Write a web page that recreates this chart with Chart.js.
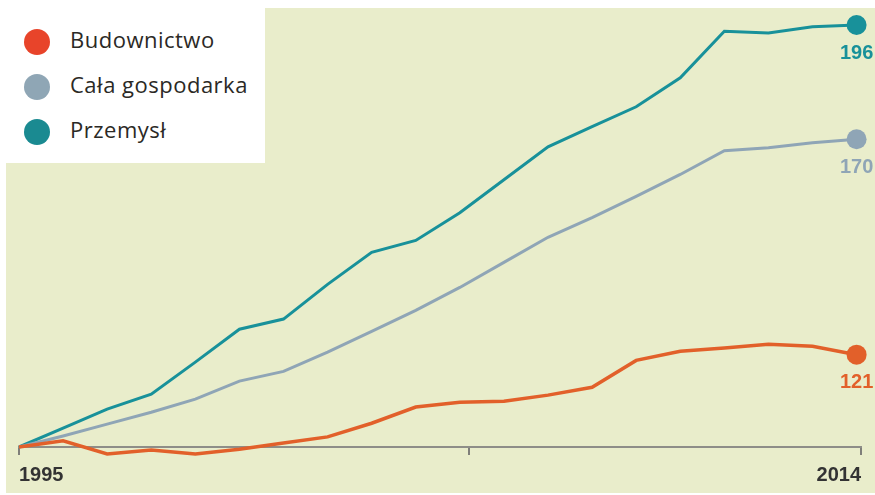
<!DOCTYPE html>
<html>
<head>
<meta charset="utf-8">
<script src="https://cdn.jsdelivr.net/npm/chart.js@4.4.1/dist/chart.umd.min.js"></script>
<style>
  body { margin: 0; background: #fff; }
  #wrap { position: relative; width: 875px; height: 495px; overflow: hidden; }
  #bg { position: absolute; left: 6px; top: 8px; right: 0; bottom: 2px; background: #e9edcb; }
  #c { position: absolute; left: 0; top: 0; }
  #legend { position: absolute; left: 0; top: 0; width: 265px; height: 163px; background: #fff;
            font-family: "Open Sans", sans-serif; font-size: 22px; letter-spacing: 0.5px; color: #2b2925; }
  .item { position: absolute; left: 24px; height: 26px; line-height: 26px; white-space: nowrap; }
  .dot { display: inline-block; width: 26px; height: 26px; border-radius: 50%; vertical-align: middle; margin-right: 20px; }
</style>
</head>
<body>
<div id="wrap">
  <div id="bg"></div>
  <canvas id="c" width="875" height="495"></canvas>
  <div id="legend"></div>
</div>
<script>
// ---- dane (indeks, 1995 = 100) ----
const lata = [1995, 1996, 1997, 1998, 1999, 2000, 2001, 2002, 2003, 2004,
              2005, 2006, 2007, 2008, 2009, 2010, 2011, 2012, 2013, 2014];
const budownictwo = [100, 101.4, 98.4, 99.3, 98.4, 99.5, 100.9, 102.3, 105.4, 109.1,
                     110.2, 110.4, 111.8, 113.6, 119.7, 121.8, 122.5, 123.4, 122.9, 121];
const calaGospodarka = [100, 102.5, 105.2, 107.9, 110.9, 115.0, 117.2, 121.6, 126.3, 131.1,
                        136.3, 142.0, 147.7, 152.2, 157.0, 162.0, 167.4, 168.1, 169.2, 170];
const przemysl = [100, 104.3, 108.6, 112.0, 119.3, 126.8, 129.1, 137.0, 144.3, 147.0,
                  153.3, 160.8, 168.3, 172.9, 177.4, 184.0, 194.6, 194.2, 195.6, 196];
const serie = ["Budownictwo", "Cała gospodarka", "Przemysł"];
const tickiX = [1995, 2005.2, 2014.1];
const etykietyX = ["1995", "", "2014"];

const kolory = ["#e2602a", "#8fa5b6", "#18919a"];
const koloryLegendy = ["#e8442a", "#8fa6b5", "#1a8a91"];

// legenda (HTML)
const legend = document.getElementById("legend");
serie.forEach((s, i) => {
    const d = document.createElement("div");
    d.className = "item";
    d.style.top = (26 + i * 45) + "px";
    d.innerHTML = `<span class="dot" style="background:${koloryLegendy[i]}"></span>${s}`;
    legend.appendChild(d);
});

const toPts = arr => arr.map((v, i) => ({ x: lata[i], y: v }));
const ostatni = arr => arr.map((v, i) => i === arr.length - 1 ? 10 : 0);

// etykiety na koncu linii
const endLabels = {
    id: "endLabels",
    afterDatasetsDraw(chart) {
        const ctx = chart.ctx;
        ctx.save();
        ctx.font = "bold 20px 'Liberation Sans', Arial, sans-serif";
        ctx.textAlign = "center";
        ctx.textBaseline = "middle";
        chart.data.datasets.forEach((ds, i) => {
            const meta = chart.getDatasetMeta(i);
            const p = meta.data[meta.data.length - 1];
            ctx.fillStyle = ds.borderColor;
            ctx.fillText(Math.round(ds.data[ds.data.length - 1].y), p.x, p.y + 28);
        });
        ctx.restore();
    }
};

new Chart(document.getElementById("c"), {
    type: "line",
    data: {
        datasets: [
            { label: serie[0], data: toPts(budownictwo), borderColor: kolory[0], backgroundColor: kolory[0],
              borderWidth: 3.5, pointRadius: ostatni(budownictwo), pointBorderWidth: 0, clip: false, tension: 0 },
            { label: serie[1], data: toPts(calaGospodarka), borderColor: kolory[1], backgroundColor: kolory[1],
              borderWidth: 3, pointRadius: ostatni(calaGospodarka), pointBorderWidth: 0, clip: false, tension: 0 },
            { label: serie[2], data: toPts(przemysl), borderColor: kolory[2], backgroundColor: kolory[2],
              borderWidth: 3, pointRadius: ostatni(przemysl), pointBorderWidth: 0, clip: false, tension: 0 }
        ]
    },
    options: {
        responsive: false,
        animation: false,
        layout: { padding: { left: 19, right: 12, top: 25, bottom: 0 } },
        plugins: { legend: { display: false }, tooltip: { enabled: false } },
        scales: {
            x: {
                type: "linear",
                min: 1995,
                max: 2014.1,
                afterBuildTicks: s => { s.ticks = tickiX.map(v => ({ value: v })); },
                ticks: {
                    autoSkip: false, maxRotation: 0, align: "inner", padding: 14,
                    color: "#333",
                    font: { family: "'Liberation Sans', Arial, sans-serif", size: 20, weight: "bold", lineHeight: 0.6 },
                    callback: (v, i) => etykietyX[i]
                },
                grid: { drawOnChartArea: false, drawTicks: true, tickLength: 8, color: "#7f7f7a", lineWidth: 2 },
                border: { display: true, color: "#8e8e88", width: 2 }
            },
            y: { display: false, min: 100, max: 196 }
        }
    },
    plugins: [endLabels]
});
</script>
</body>
</html>
